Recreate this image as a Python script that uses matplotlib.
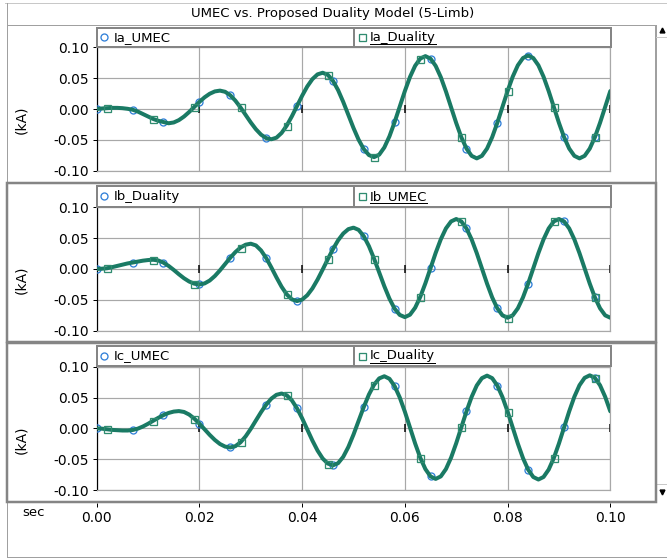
"""
UMEC vs. Proposed Duality Model (5-Limb): phase currents, PSCAD-style plot.
"""

import numpy as np
import matplotlib.pyplot as plt
from matplotlib.patches import Rectangle
from matplotlib.lines import Line2D
from matplotlib.transforms import Affine2D

# time base (s), one sample per ms
t = np.linspace(0.0, 0.1, 101)

# phase currents (kA)
ia = [0, 0.001, 0.0015, 0.002, 0.002, 0.0015, 0.0005, -0.001, -0.004, -0.008,
      -0.012, -0.016, -0.019, -0.021, -0.023,
      -0.0217, -0.0179, -0.0121, -0.0047, 0.0035, 0.0117, 0.0191, 0.0249, 0.0287, 0.030,
      0.0281, 0.0225, 0.0137, 0.0027, -0.0095, -0.0217, -0.0327, -0.0415, -0.0471, -0.049,
      -0.0464, -0.0387, -0.0268, -0.0117, 0.005, 0.0217, 0.0368, 0.0487, 0.0564, 0.059,
      0.0556, 0.0459, 0.0308, 0.0117, -0.0095, -0.0307, -0.0498, -0.0649, -0.0746, -0.078,
      -0.074, -0.0623, -0.0442, -0.0213, 0.004, 0.0293, 0.0522, 0.0703, 0.082, 0.086,
      0.0819, 0.0701, 0.0518, 0.0286, 0.003, -0.0226, -0.0458, -0.0641, -0.0759, -0.080,
      -0.0759, -0.0641, -0.0456, -0.0223, 0.0035, 0.0293, 0.0526, 0.0711, 0.0829, 0.087,
      0.0829, 0.0711, 0.0526, 0.0293, 0.0035, -0.0223, -0.0456, -0.0641, -0.0759, -0.080,
      -0.0759, -0.0641, -0.0456, -0.0223, 0.0035, 0.0293]

ib = [0, 0.0005, 0.0012, 0.003, 0.005, 0.007, 0.009, 0.0105, 0.012, 0.0135, 0.0145, 0.015,
      0.0138, 0.0103, 0.005, -0.0015, -0.0085, -0.015, -0.0203, -0.0238, -0.025,
      -0.0234, -0.0187, -0.0114, -0.0022, 0.008, 0.0182, 0.0274, 0.0347, 0.0394, 0.041,
      0.0382, 0.0301, 0.0178, 0.0026, -0.0136, -0.0288, -0.0411, -0.0492, -0.052,
      -0.0496, -0.0425, -0.0315, -0.0172, -0.0009, 0.0159, 0.0322, 0.0465, 0.0575, 0.0646, 0.067,
      0.0634, 0.0532, 0.0371, 0.0169, -0.0055, -0.0279, -0.0481, -0.0642, -0.0744, -0.078,
      -0.0741, -0.0628, -0.0452, -0.0231, 0.0015, 0.0261, 0.0482, 0.0658, 0.0771, 0.081,
      0.0771, 0.0657, 0.048, 0.0257, 0.001, -0.0237, -0.046, -0.0637, -0.0751, -0.079,
      -0.0751, -0.0637, -0.046, -0.0237, 0.001, 0.0257, 0.048, 0.0657, 0.0771, 0.081,
      0.0771, 0.0657, 0.048, 0.0257, 0.001, -0.0237, -0.046, -0.0637, -0.0751, -0.079]

ic = [0, -0.0005, -0.0015, -0.0025, -0.003, -0.0035, -0.0035,
      -0.0027, -0.0005, 0.003, 0.0074, 0.0123, 0.0171, 0.0215, 0.025, 0.0272, 0.028,
      0.0266, 0.0224, 0.0158, 0.0076, -0.0015, -0.0106, -0.0188, -0.0254, -0.0296, -0.031,
      -0.0289, -0.0227, -0.013, -0.0008, 0.0128, 0.0263, 0.0385, 0.0482, 0.0544, 0.0565,
      0.0536, 0.0454, 0.0325, 0.0163, -0.0018, -0.0198, -0.036, -0.0489, -0.0571, -0.060,
      -0.0565, -0.0462, -0.0302, -0.0101, 0.0123, 0.0346, 0.0548, 0.0707, 0.081, 0.0845,
      0.0804, 0.0686, 0.0502, 0.027, 0.0013, -0.0245, -0.0477, -0.0661, -0.078, -0.082,
      -0.0779, -0.066, -0.0475, -0.0241, 0.0018, 0.0276, 0.051, 0.0695, 0.0814, 0.0855,
      0.0814, 0.0694, 0.0508, 0.0273, 0.0013, -0.0248, -0.0483, -0.0669, -0.0789, -0.083,
      -0.0789, -0.0669, -0.0482, -0.0246, 0.0015, 0.0276, 0.0512, 0.0699, 0.0819, 0.086,
      0.0819, 0.0699, 0.0512, 0.0276]

first_names = ["Ia_UMEC", "Ib_Duality", "Ic_UMEC"]
second_names = ["Ia_Duality", "Ib_UMEC", "Ic_Duality"]

# sample indices where PSCAD puts the curve symbols
circle_marks = [0, 7, 13, 20, 26, 33, 39, 46, 52, 58, 65, 72, 78, 84, 91, 97]
square_marks = [2, 11, 19, 28, 37, 45, 54, 63, 71, 80, 89, 97]

x_ticks = [0.0, 0.02, 0.04, 0.06, 0.08, 0.10]
y_ticks = [-0.10, -0.05, 0.0, 0.05, 0.10]

title = "UMEC vs. Proposed Duality Model (5-Limb)"

W, H = 667, 559
GREEN = "#1a7a64"
SQ_GREEN = "#2f8c70"
BLUE = "#2f7fd8"
GRID = "#a8a8a8"
FRAME = "#858585"
PT = 0.72  # points per pixel at dpi 100

plt.rcParams['font.family'] = ['DejaVu Sans']

fig = plt.figure(figsize=(W / 100, H / 100), dpi=100)
pix = Affine2D().scale(1 / W, -1 / H).translate(0, 1) + fig.transFigure


def box(x0, y0, x1, y1):
    return [x0 / W, 1 - y1 / H, (x1 - x0) / W, (y1 - y0) / H]


def rect(x0, y0, x1, y1, lw, ec, fc='none', z=1):
    fig.add_artist(Rectangle((x0, y0), x1 - x0, y1 - y0, transform=pix,
                             lw=lw * PT, ec=ec, fc=fc, zorder=z))


def hline(x0, x1, y, lw, c, z=2):
    fig.add_artist(Line2D([x0, x1], [y, y], transform=pix, lw=lw * PT, color=c, zorder=z))


def vline(x, y0, y1, lw, c, z=2):
    fig.add_artist(Line2D([x, x], [y0, y1], transform=pix, lw=lw * PT, color=c, zorder=z))


# window chrome
hline(5, 667, 3, 1, "#c8c8c8")
hline(7, 655, 25, 1, "#a0a0a0")
vline(7, 3, 557, 1, "#a0a0a0")
hline(7, 667, 557, 1, "#a0a0a0")
fig.text(333, 13, title, transform=pix, ha='center', va='center', fontsize=9.5)

# scrollbar strip
vline(655.5, 25, 502, 1, "#a0a0a0")
hline(656, 667, 37, 1, "#c8c8c8")
hline(656, 667, 484, 1, "#c8c8c8")
fig.add_artist(Line2D([662], [30], transform=pix, marker='^', ms=3.5, color='k', ls='none'))
fig.add_artist(Line2D([662], [492], transform=pix, marker='v', ms=3.5, color='k', ls='none'))

# panel geometry in pixels: frame top/bottom, legend top, plot top/bottom
panels = [
    dict(y=ia, frame=(25, 182), thick=False, leg=27.5, top=47.5, bot=170.7),
    dict(y=ib, frame=(182.5, 342), thick=True, leg=186, top=207.3, bot=330.7),
    dict(y=ic, frame=(342.5, 502), thick=True, leg=345.5, top=366.7, bot=490),
]
X0, X1 = 96.7, 610.3

renderer = fig.canvas.get_renderer()

for i, p in enumerate(panels):
    f0, f1 = p['frame']
    if p['thick']:
        rect(7, f0, 656, f1, 2.5, FRAME, z=3)
    else:
        vline(655, f0, f1, 1, "#a0a0a0")

    ax = fig.add_axes(box(X0, p['top'], X1, p['bot']))
    ax.set_xlim(0, 0.1)
    ax.set_ylim(-0.1, 0.1)
    ax.set_xticks(x_ticks)
    ax.set_yticks(y_ticks)
    ax.set_yticklabels([f"{v:.2f}" for v in y_ticks])
    ax.grid(True, color=GRID, lw=1.2 * PT, zorder=0)
    ax.set_axisbelow(True)
    ax.tick_params(axis='x', length=0, labelbottom=False)
    ax.tick_params(axis='y', length=4 * PT, width=1 * PT, color='k',
                   labelsize=10, pad=4 * PT)
    for s in ['top', 'right', 'bottom']:
        ax.spines[s].set_color(GRID)
        ax.spines[s].set_linewidth(1.2 * PT)
    ax.spines['left'].set_color('k')
    ax.spines['left'].set_linewidth(1.2 * PT)

    # black ticks along the zero line
    ax.plot(x_ticks[1:], np.zeros(len(x_ticks) - 1), ls='none', marker='|',
            ms=8 * PT, mew=1.5 * PT, color='k', clip_on=False, zorder=2)

    y = p['y']
    ax.plot(t, y, ls='none', marker='o', markevery=circle_marks, ms=7 * PT,
            mfc='none', mec=BLUE, mew=1.3 * PT, zorder=3)
    ax.plot(t, y, color=GREEN, lw=4 * PT, solid_capstyle='round', zorder=4)
    ax.plot(t, y, ls='none', marker='s', markevery=square_marks, ms=7 * PT,
            mfc='none', mec=SQ_GREEN, mew=1.3 * PT, zorder=5)

    zero_y = (p['top'] + p['bot']) / 2
    fig.text(21.5, zero_y + 11, "(kA)", transform=pix, rotation=90,
             ha='center', va='center', fontsize=10)

    # legend boxes
    ly0, ly1 = p['leg'], p['top'] - 0.5
    cy = (ly0 + ly1) / 2
    rect(X0, ly0, 354, ly1, 2, FRAME, fc='white', z=3)
    rect(354, ly0, 611, ly1, 2, FRAME, fc='white', z=3)
    fig.add_artist(Line2D([104], [cy], transform=pix, marker='o', ms=7 * PT,
                          mfc='none', mec=BLUE, mew=1.3 * PT, ls='none', zorder=4))
    fig.add_artist(Line2D([362], [cy], transform=pix, marker='s', ms=7 * PT,
                          mfc='none', mec=SQ_GREEN, mew=1.3 * PT, ls='none', zorder=4))
    fig.text(114, cy, first_names[i], transform=pix, ha='left', va='center',
             fontsize=9.5, zorder=5)
    txt = fig.text(370, cy, second_names[i], transform=pix, ha='left', va='center',
                   fontsize=9.5, zorder=5)
    wpx = txt.get_window_extent(renderer).width
    hline(370, 370 + wpx, cy + 7, 1, 'k', z=5)

# shared time axis under the last panel
axb = fig.add_axes(box(X0, 500, X1, 502.5))
axb.set_xlim(0, 0.1)
axb.set_xticks(x_ticks)
axb.set_xticklabels([f"{v:.2f}" for v in x_ticks])
axb.set_yticks([])
axb.patch.set_alpha(0)
for s in axb.spines.values():
    s.set_visible(False)
axb.tick_params(axis='x', length=4 * PT, width=1 * PT, color='k',
                labelsize=10, pad=5 * PT)
fig.text(34, 513, "sec", transform=pix, ha='center', va='center', fontsize=9.5)

fig.savefig("out.png", dpi=100)
